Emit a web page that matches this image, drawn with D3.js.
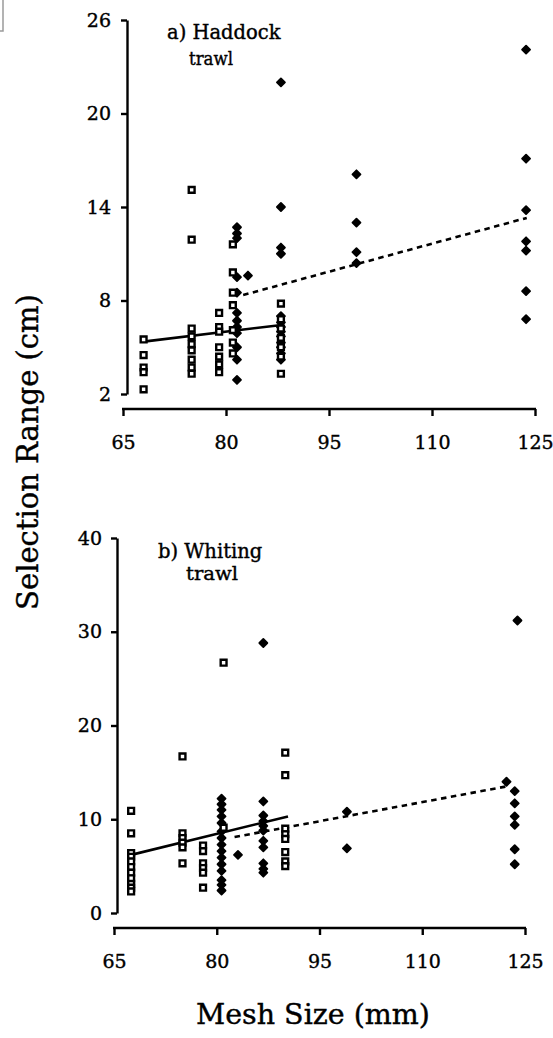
<!DOCTYPE html>
<html lang="en">
<head>
  <meta charset="UTF-8">
  <title>Selection range vs mesh size</title>
  <script src="https://d3js.org/d3.v7.min.js"></script>
  <style>
    body {
      margin: 0;
      padding: 0;
      background: #fff;
    }
    svg {
      display: block;
    }
    text {
      font-family: 'DejaVu Serif', serif;
      fill: #000;
      stroke: #000;
      stroke-width: 0.4px;
    }
    .axis path, .axis line {
      stroke: #000;
      stroke-width: 2.4;
    }
    .axis text {
      font-family: 'DejaVu Serif', serif;
      font-size: 19px;
    }
  </style>
</head>
<body>
  <svg id="chart" width="553" height="1038"></svg>

  <script>
    // mesh size ticks and range ticks
    var meshTicks = [65, 80, 95, 110, 125];
    var haddockTicks = [2, 8, 14, 20, 26];
    var whitingTicks = [0, 10, 20, 30, 40];

    // a) haddock trawl: [mesh, [selection ranges]]
    var haddockOpen = [
      [68, [5.5, 4.5, 3.7, 3.4, 2.3]],
      [75, [15.1, 11.9, 6.2, 5.7, 5.2, 4.8, 4.2, 3.7, 3.3]],
      [79, [7.2, 6.3, 6.0, 5.0, 4.4, 3.9, 3.4]],
      [81, [11.6, 9.8, 8.5, 7.7, 6.1, 5.3, 4.6]],
      [88, [7.8, 6.8, 6.2, 5.6, 5.0, 4.4, 3.3]]
    ];
    var haddockFilled = [
      [81.6, [12.7, 12.3, 12.0, 9.5, 8.5, 7.2, 6.7, 6.3, 5.9, 5.0, 4.2, 2.9]],
      [83.2, [9.6]],
      [88, [22, 14, 11.4, 11.0, 7.0, 6.6, 6.3, 6.0, 5.7, 5.3, 5.0, 4.6, 4.2]],
      [99, [16.1, 13.0, 11.1, 10.4]],
      [123.7, [24.1, 17.1, 13.8, 11.8, 11.2, 8.6, 6.8]]
    ];
    var haddockFitOpen = [[68, 5.36], [88.1, 6.43]];
    var haddockFitFilled = [[82.5, 8.35], [123.8, 13.3]];

    // b) whiting trawl
    var whitingOpen = [
      [67.5, [10.9, 8.5, 6.4, 6.0, 5.5, 4.9, 4.3, 3.7, 3.1, 2.7, 2.3]],
      [75, [16.7, 8.5, 8.0, 7.5, 7.0, 5.3]],
      [78, [7.2, 6.6, 5.3, 4.8, 4.3, 2.7]],
      [81, [26.7, 9.1]],
      [90, [17.1, 14.7, 9.0, 8.4, 7.9, 6.5, 5.5, 5.0]]
    ];
    var whitingFilled = [
      [80.7, [12.2, 11.6, 11.0, 10.3, 9.6, 8.7, 8.0, 7.3, 6.6, 5.9, 5.2, 4.5, 3.5, 3.0, 2.4]],
      [83.1, [6.2]],
      [86.8, [28.8, 11.9, 10.4, 9.8, 9.3, 8.8, 7.7, 7.0, 5.3, 4.7, 4.3]],
      [99, [10.8, 6.9]],
      [122.3, [14.0]],
      [123.5, [13.0, 11.7, 10.3, 9.4, 6.8, 5.2]],
      [123.9, [31.2]]
    ];
    var whitingFitOpen = [[67.5, 6.2], [90.4, 10.3]];
    var whitingFitFilled = [[82.6, 8.1], [122.3, 13.5]];

    var svg = d3.select('#chart');

    // scan border remnant in the corner
    svg.append('path')
      .attr('d', 'M3,0V31H0')
      .attr('fill', 'none')
      .attr('stroke', '#9a9a9a')
      .attr('stroke-width', 1.5);

    function flatten(cols) {
      return cols.flatMap(function(c) {
        return c[1].map(function(v) { return [c[0], v]; });
      });
    }

    function panel(opt) {
      var x = d3.scaleLinear().domain([65, 125]).range(opt.xRange);
      var y = d3.scaleLinear().domain(opt.yDomain).range(opt.yRange);

      svg.append('g')
        .attr('class', 'axis')
        .attr('transform', 'translate(0,' + opt.xAxisY + ')')
        .call(d3.axisBottom(x).tickValues(meshTicks).tickSize(7).tickSizeOuter(0).tickPadding(20))
        .call(function(g) { g.select('.domain').attr('d', 'M' + (opt.xRange[0] - 1) + ',0H' + (opt.xRange[1] + 1)); });

      svg.append('g')
        .attr('class', 'axis')
        .attr('transform', 'translate(' + opt.yAxisX + ',0)')
        .call(d3.axisLeft(y).tickValues(opt.yTicks).tickSize(6).tickSizeOuter(0).tickPadding(opt.yPad));

      var line = d3.line()
        .x(function(d) { return x(d[0]); })
        .y(function(d) { return y(d[1]); });

      svg.append('path')
        .datum(opt.fitOpen)
        .attr('d', line)
        .attr('fill', 'none')
        .attr('stroke', '#000')
        .attr('stroke-width', 2.6);

      svg.append('path')
        .datum(opt.fitFilled)
        .attr('d', line)
        .attr('fill', 'none')
        .attr('stroke', '#000')
        .attr('stroke-width', 2.6)
        .attr('stroke-dasharray', '5.5,4.5');

      var diamond = d3.symbol().type(d3.symbolSquare).size(32);
      svg.append('g').selectAll('path')
        .data(flatten(opt.filled))
        .enter().append('path')
        .attr('d', diamond)
        .attr('transform', function(d) {
          return 'translate(' + x(d[0]) + ',' + y(d[1]) + ')rotate(45)';
        })
        .attr('fill', '#000')
        .attr('stroke', '#000')
        .attr('stroke-width', 1.8)
        .attr('stroke-linejoin', 'round');

      var square = d3.symbol().type(d3.symbolSquare).size(34);
      svg.append('g').selectAll('path')
        .data(flatten(opt.open))
        .enter().append('path')
        .attr('d', square)
        .attr('transform', function(d) {
          return 'translate(' + x(d[0]) + ',' + y(d[1]) + ')';
        })
        .attr('fill', '#fff')
        .attr('stroke', '#000')
        .attr('stroke-width', 2.4);

      svg.append('text')
        .attr('x', opt.titleX)
        .attr('y', opt.titleY)
        .style('font-size', '19.5px')
        .text(opt.title);

      svg.append('text')
        .attr('x', opt.subX)
        .attr('y', opt.titleY + opt.subDy)
        .attr('text-anchor', 'middle')
        .attr('textLength', opt.subLen)
        .attr('lengthAdjust', 'spacingAndGlyphs')
        .style('font-size', '19px')
        .text('trawl');
    }

    panel({
      xRange: [123, 535], xAxisY: 409,
      yDomain: [2, 26], yRange: [394, 20], yAxisX: 127, yTicks: haddockTicks, yPad: 10,
      open: haddockOpen, filled: haddockFilled,
      fitOpen: haddockFitOpen, fitFilled: haddockFitFilled,
      title: 'a) Haddock', titleX: 167, titleY: 39, subX: 211, subDy: 26, subLen: 44
    });

    panel({
      xRange: [114, 525], xAxisY: 928,
      yDomain: [0, 40], yRange: [913, 538], yAxisX: 117, yTicks: whitingTicks, yPad: 9,
      open: whitingOpen, filled: whitingFilled,
      fitOpen: whitingFitOpen, fitFilled: whitingFitFilled,
      title: 'b) Whiting', titleX: 158, titleY: 558, subX: 212, subDy: 22, subLen: 52
    });

    svg.append('text')
      .attr('transform', 'translate(38,452)rotate(-90)')
      .attr('text-anchor', 'middle')
      .style('font-size', '29px')
      .text('Selection Range (cm)');

    svg.append('text')
      .attr('x', 313)
      .attr('y', 1024)
      .attr('text-anchor', 'middle')
      .style('font-size', '28.5px')
      .text('Mesh Size (mm)');
  </script>
</body>
</html>
